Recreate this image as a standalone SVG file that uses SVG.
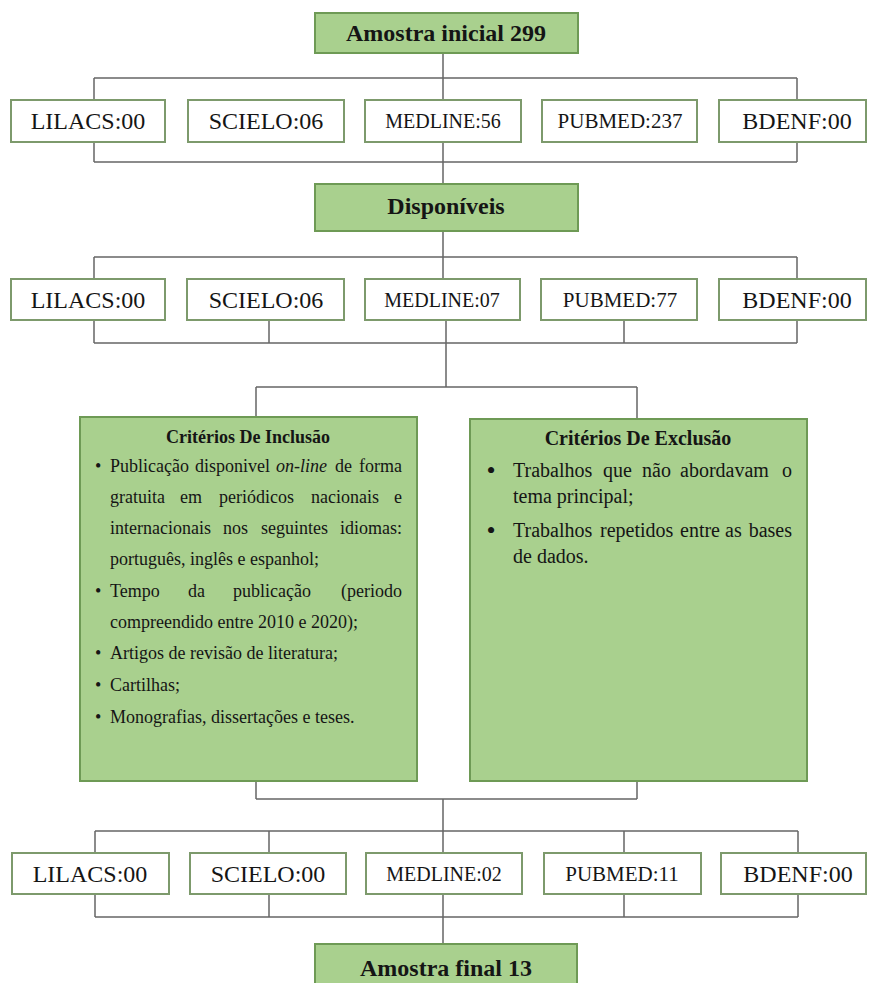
<svg xmlns="http://www.w3.org/2000/svg" width="869" height="983" viewBox="0 0 869 983">
<style>
.g{fill:#a9d08e;stroke:#6e9a55;stroke-width:2}
.w{fill:#fff;stroke:#7d9a6c;stroke-width:2}
.c{fill:none;stroke:#666;stroke-width:1.5}
text{font-family:"Liberation Serif","Times New Roman",serif;fill:#151515}
.t{font-size:24px;font-weight:bold;text-anchor:middle}
.l{font-size:24px;text-anchor:middle}
.s{font-size:20px;text-anchor:middle}
.p{font-size:21px;text-anchor:middle}
.i{font-size:18px}
.e{font-size:20px}
.b{font-size:26px;text-anchor:middle}
.h1{font-size:18px;font-weight:bold;text-anchor:middle}
.h2{font-size:20px;font-weight:bold;text-anchor:middle}
.end{text-anchor:end}
</style>
<rect width="869" height="983" fill="#fff"/>
<g id="connectors" class="c">
<path d="M443 53V78M94 78H797M94 78V100M443 78V100M797 78V100"/>
<path d="M94 142V162M443 142V162M797 142V162M94 162H797M443 162V184"/>
<path d="M443 231V257M94 257H797M94 257V279M443 257V279M797 257V279"/>
<path d="M94 320V343M269 320V343M446 320V343M624 320V343M797 320V343M94 343H797M446 343V387"/>
<path d="M256 387H637M256 387V417M637 387V419"/>
<path d="M256 781V799M637 781V799M256 799H637M443 799V831"/>
<path d="M95 831H798M95 831V853M269 831V853M443 831V853M624 831V853M798 831V853"/>
<path d="M95 894V917M269 894V917M443 894V917M624 894V917M798 894V917M95 917H798M443 917V944"/>
</g>
<g id="amostra-inicial"><rect class="g" x="315" y="13" width="263" height="40"/><text class="t" x="446" y="41">Amostra inicial 299</text></g>
<g id="r1-lilacs"><rect class="w" x="11" y="100" width="154" height="42"/><text class="l" x="88" y="129">LILACS:00</text></g>
<g id="r1-scielo"><rect class="w" x="188" y="100" width="156" height="42"/><text class="l" x="266" y="129">SCIELO:06</text></g>
<g id="r1-medline"><rect class="w" x="365" y="100" width="156" height="42"/><text class="s" x="443" y="128">MEDLINE:56</text></g>
<g id="r1-pubmed"><rect class="w" x="542" y="100" width="155" height="42"/><text class="p" x="620" y="128">PUBMED:237</text></g>
<g id="r1-bdenf"><rect class="w" x="719" y="100" width="147" height="42"/><text class="l" x="797" y="129">BDENF:00</text></g>
<g id="disponiveis"><rect class="g" x="315" y="184" width="263" height="47"/><text class="t" x="446" y="214">Disponíveis</text></g>
<g id="r2-lilacs"><rect class="w" x="11" y="279" width="154" height="41"/><text class="l" x="88" y="308">LILACS:00</text></g>
<g id="r2-scielo"><rect class="w" x="187" y="279" width="157" height="41"/><text class="l" x="266" y="308">SCIELO:06</text></g>
<g id="r2-medline"><rect class="w" x="365" y="279" width="155" height="41"/><text class="s" x="442" y="307">MEDLINE:07</text></g>
<g id="r2-pubmed"><rect class="w" x="541" y="279" width="156" height="41"/><text class="p" x="620" y="307">PUBMED:77</text></g>
<g id="r2-bdenf"><rect class="w" x="719" y="279" width="147" height="41"/><text class="l" x="797" y="308">BDENF:00</text></g>
<g id="inclusao"><rect class="g" x="80" y="417" width="337" height="364"/>
<text class="h1" x="248" y="443">Critérios De Inclusão</text>
<text class="i"><tspan x="95" y="472">•</tspan><tspan x="110" y="472">Publicação</tspan><tspan x="195" y="472">disponivel</tspan><tspan x="276" y="472" font-style="italic">on-line</tspan><tspan x="335" y="472">de</tspan></text>
<text class="i end" x="402" y="472">forma</text>
<text class="i"><tspan x="110" y="503">gratuita</tspan><tspan x="180" y="503">em</tspan><tspan x="219" y="503">periódicos</tspan><tspan x="311" y="503">nacionais</tspan></text>
<text class="i end" x="402" y="503">e</text>
<text class="i"><tspan x="110" y="534">internacionais</tspan><tspan x="223" y="534">nos</tspan><tspan x="261" y="534">seguintes</tspan></text>
<text class="i end" x="402" y="534">idiomas:</text>
<text class="i" x="110" y="565">português, inglês e espanhol;</text>
<text class="i"><tspan x="95" y="597">•</tspan><tspan x="110" y="597">Tempo</tspan><tspan x="188" y="597">da</tspan><tspan x="233" y="597">publicação</tspan></text>
<text class="i end" x="402" y="597">(periodo</text>
<text class="i" x="110" y="628">compreendido entre 2010 e 2020);</text>
<text class="i"><tspan x="95" y="659">•</tspan><tspan x="110" y="659">Artigos de revisão de literatura;</tspan></text>
<text class="i"><tspan x="95" y="691">•</tspan><tspan x="110" y="691">Cartilhas;</tspan></text>
<text class="i"><tspan x="95" y="723">•</tspan><tspan x="110" y="723">Monografias, dissertações e teses.</tspan></text>
</g>
<g id="exclusao"><rect class="g" x="470" y="419" width="337" height="362"/>
<text class="h2" x="638" y="445">Critérios De Exclusão</text>
<text class="b" x="491" y="479">•</text>
<text class="e"><tspan x="513" y="477">Trabalhos</tspan><tspan x="603" y="477">que</tspan><tspan x="642" y="477">não</tspan><tspan x="680" y="477">abordavam</tspan></text>
<text class="e end" x="792" y="477">o</text>
<text class="e" x="513" y="503">tema principal;</text>
<text class="b" x="491" y="539">•</text>
<text class="e"><tspan x="513" y="537">Trabalhos</tspan><tspan x="600" y="537">repetidos</tspan><tspan x="680" y="537">entre</tspan><tspan x="725" y="537">as</tspan></text>
<text class="e end" x="792" y="537">bases</text>
<text class="e" x="513" y="563">de dados.</text>
</g>
<g id="r3-lilacs"><rect class="w" x="12" y="853" width="157" height="41"/><text class="l" x="90" y="882">LILACS:00</text></g>
<g id="r3-scielo"><rect class="w" x="190" y="853" width="156" height="41"/><text class="l" x="268" y="882">SCIELO:00</text></g>
<g id="r3-medline"><rect class="w" x="366" y="853" width="156" height="41"/><text class="s" x="444" y="881">MEDLINE:02</text></g>
<g id="r3-pubmed"><rect class="w" x="544" y="853" width="157" height="41"/><text class="p" x="622" y="881">PUBMED:11</text></g>
<g id="r3-bdenf"><rect class="w" x="721" y="853" width="145" height="41"/><text class="l" x="798" y="882">BDENF:00</text></g>
<g id="amostra-final"><rect class="g" x="315" y="944" width="262" height="50"/><text class="t" x="446" y="976">Amostra final 13</text></g>
</svg>
